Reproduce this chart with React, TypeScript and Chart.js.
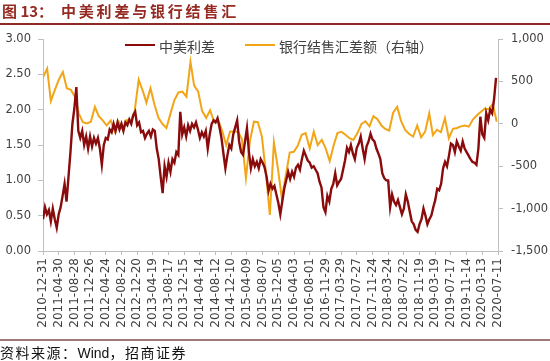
import React, { useEffect, useRef } from 'react';
import { Chart, registerables } from 'chart.js';

Chart.register(...registerables);

// ---------- data ----------
const xTickLabels = [
  '2010-12-31', '2011-04-30', '2011-08-28', '2011-12-26', '2012-04-24', '2012-08-22',
  '2012-12-20', '2013-04-19', '2013-08-17', '2013-12-15', '2014-04-14', '2014-08-12',
  '2014-12-10', '2015-04-09', '2015-08-07', '2015-12-05', '2016-04-03', '2016-08-01',
  '2016-11-29', '2017-03-29', '2017-07-27', '2017-11-24', '2018-03-24', '2018-07-22',
  '2018-11-19', '2019-03-19', '2019-07-17', '2019-11-14', '2020-03-13', '2020-07-11',
];

const seriesNames = ['中美利差', '银行结售汇差额（右轴）'];

// China-US yield spread (%), sampled every 15 days from 2010-12-31
const spreadStart = '2010-12-31';
const spreadStepDays = 15;
const spreadValues = [
  0.45, 0.62, 0.52, 0.58, 0.42, 0.6, 0.45, 0.33, 0.52, 0.62,
  0.78, 0.95, 0.7, 1.05, 1.4, 1.8, 2.02, 2.32, 1.7, 1.6,
  1.7, 1.5, 1.62, 1.45, 1.62, 1.48, 1.6, 1.52, 1.6, 1.45,
  1.22, 1.5, 1.6, 1.58, 1.72, 1.68, 1.8, 1.7, 1.82, 1.72,
  1.8, 1.7, 1.82, 1.78, 1.86, 1.8, 1.92, 1.97, 1.78, 1.82,
  1.68, 1.7, 1.6, 1.66, 1.7, 1.62, 1.72, 1.7, 1.45, 1.3,
  1.05, 0.82, 1.2, 1.05, 1.25, 1.12, 1.3, 1.25, 1.4, 1.36,
  1.97, 1.65, 1.75, 1.62, 1.78, 1.7, 1.8, 1.75, 1.82, 1.72,
  1.6, 1.68, 1.62, 1.7, 1.45, 1.65, 1.8, 1.85, 1.82, 1.88,
  1.75, 1.6, 1.38, 1.17, 1.35, 1.5, 1.45, 1.65, 1.75, 1.85,
  1.55, 1.4, 1.36, 1.55, 1.74, 1.4, 1.17, 1.3, 1.2, 1.26,
  1.17, 1.3, 1.25, 1.18, 1.05, 0.85, 0.95, 0.88, 0.92, 0.8,
  0.68, 0.52, 0.7, 0.88, 1.0, 1.12, 1.02, 1.12, 1.05, 1.18,
  1.22, 1.15, 1.3, 1.42, 1.35, 1.28, 1.25, 1.18, 1.2, 1.15,
  1.1, 0.98, 0.9, 0.62, 0.55, 0.78, 0.7, 0.88, 0.95, 1.1,
  0.93, 0.98, 1.02, 1.15, 1.28, 1.46, 1.4, 1.5, 1.38, 1.3,
  1.46, 1.52, 1.62, 1.45, 1.3, 1.48, 1.55, 1.66, 1.58, 1.55,
  1.45, 1.38, 1.3, 1.1, 1.03, 1.0, 1.0, 0.62, 0.8, 0.7,
  0.65, 0.72, 0.62, 0.52, 0.6, 0.8, 0.7, 0.56, 0.42, 0.38,
  0.3, 0.27, 0.38, 0.45, 0.6, 0.5, 0.38, 0.45, 0.5, 0.62,
  0.72, 0.88, 0.86, 0.95, 1.17, 1.26, 1.2, 1.35, 1.52, 1.5,
  1.4, 1.55, 1.48, 1.42, 1.55, 1.45, 1.4, 1.35, 1.3, 1.26,
  1.25, 1.22, 1.45, 1.9, 1.65, 1.6, 1.95, 1.85, 2.0, 1.95,
  2.15, 2.45,
];

// Bank FX settlement balance (monthly), from 2011-01
const fxStartYear = 2011;
const fxStartMonth = 1;
const fxValues = [
  550, 650, 270, 400, 520, 610, 420, 400, 320, 120,
  20, 5, 25, 200, 90, 40, -20, 40, -90, 25,
  -70, 45, 30, 150, 520, 390, 250, 420, 230, 70,
  0, -50, 120, 280, 370, 380, 320, 730, 450, 380,
  150, 70, 160, 20, 40, -80, -250, -90, -90, -95,
  -180, -640, -210, 25, 20, -150, -580, -1075, -220, -520,
  -880, -600, -340, -330, -260, -130, -110, -290, -93, -250,
  -190, -290, -440, -250, -110, -95, -130, -170, -191, -110,
  0, 30, -30, 90, 55, -20, -60, -80, 130, 200,
  30, -73, -120, -150, -20, -160, -93, 124, -132, -70,
  -100, 65, -171, -60, -50, -30, -20, -34, 50, 100,
  140, 180, 170, 235, 25,
];

const leftMin = 0;
const leftMax = 3;
const leftStep = 0.5;
const rightMin = -1500;
const rightMax = 1000;
const rightStep = 500;

// ---------- helpers ----------
const DAY = 86400000;
function parseDate(s: string): number {
  const [y, m, d] = s.split('-').map(Number);
  return Date.UTC(y, m - 1, d);
}
const origin = parseDate(xTickLabels[0]);
const dayOf = (t: number) => Math.round((t - origin) / DAY);

const spreadData = spreadValues.map((v, i) => ({
  x: dayOf(parseDate(spreadStart)) + i * spreadStepDays,
  y: v,
}));
const fxData = fxValues.map((v, i) => ({
  x: dayOf(Date.UTC(fxStartYear, fxStartMonth - 1 + i, 1)),
  y: v,
}));
const xTickValues = xTickLabels.map((s) => dayOf(parseDate(s)));

const RED = '#8A0B0B';
const ORANGE = '#F2A516';
const AXIS = '#BFBFBF';
const TXT = '#404040';

export default function App() {
  const ref = useRef<HTMLCanvasElement | null>(null);

  useEffect(() => {
    if (!ref.current) return;
    const chart = new Chart(ref.current, {
      type: 'line',
      data: {
        datasets: [
          {
            label: seriesNames[0],
            data: spreadData,
            yAxisID: 'y',
            borderColor: RED,
            backgroundColor: RED,
            borderWidth: 2.4,
            pointRadius: 0,
            tension: 0,
          },
          {
            label: seriesNames[1],
            data: fxData,
            yAxisID: 'y1',
            borderColor: ORANGE,
            backgroundColor: ORANGE,
            borderWidth: 2,
            pointRadius: 0,
            tension: 0,
          },
        ],
      },
      options: {
        responsive: false,
        animation: false,
        events: [],
        layout: { padding: { top: 39, left: 0, right: 0, bottom: 0 } },
        plugins: { legend: { display: false }, tooltip: { enabled: false } },
        scales: {
          x: {
            type: 'linear',
            min: xTickValues[0],
            max: xTickValues[xTickValues.length - 1],
            afterBuildTicks: (scale: any) => {
              scale.ticks = xTickValues.map((v) => ({ value: v }));
            },
            afterFit: (scale: any) => {
              scale.height = 110;
            },
            ticks: {
              autoSkip: false,
              maxRotation: 90,
              minRotation: 90,
              padding: 3,
              color: TXT,
              font: { family: 'DejaVu Sans', size: 12 },
              callback: (_v: any, i: number) => xTickLabels[i],
            },
            grid: { display: true, drawOnChartArea: false, drawTicks: true, tickLength: 4, color: AXIS },
            border: { display: true, color: AXIS },
          },
          y: {
            position: 'left',
            min: leftMin,
            max: leftMax,
            afterFit: (scale: any) => {
              scale.width = 43;
            },
            ticks: {
              stepSize: leftStep,
              padding: 7,
              color: TXT,
              font: { family: 'DejaVu Sans', size: 11.5 },
              callback: (v: any) => Number(v).toFixed(2),
            },
            grid: { display: true, drawOnChartArea: false, drawTicks: true, tickLength: 5, color: AXIS },
            border: { display: true, color: AXIS },
          },
          y1: {
            position: 'right',
            min: rightMin,
            max: rightMax,
            afterFit: (scale: any) => {
              scale.width = 52;
            },
            ticks: {
              stepSize: rightStep,
              padding: 8,
              color: TXT,
              font: { family: 'DejaVu Sans', size: 11.5 },
              callback: (v: any) => Number(v).toLocaleString('en-US'),
            },
            grid: { display: true, drawOnChartArea: false, drawTicks: true, tickLength: 5, color: AXIS },
            border: { display: true, color: AXIS },
          },
        },
      } as any,
    });
    return () => chart.destroy();
  }, []);

  const cjk = '"Noto Sans CJK SC", "Noto Sans", sans-serif';

  return (
    <div style={{ position: 'absolute', left: 0, top: 0, width: 550, height: 361, background: '#fff', overflow: 'hidden' }}>
      <canvas ref={ref} width={550} height={361} style={{ position: 'absolute', left: 0, top: 0, width: 550, height: 361 }} />
      {/* title */}
      <div style={{ position: 'absolute', left: 2, top: 1, fontFamily: cjk, fontSize: 15, fontWeight: 'bold', color: '#952A22', whiteSpace: 'nowrap', lineHeight: '20px' }}>
        图 13：
      </div>
      <div style={{ position: 'absolute', left: 61, top: 1, fontFamily: cjk, fontSize: 15, fontWeight: 'bold', color: '#952A22', whiteSpace: 'nowrap', letterSpacing: 2.8, lineHeight: '20px' }}>
        中美利差与银行结售汇
      </div>
      <div style={{ position: 'absolute', left: 0, top: 23, width: 550, height: 2, background: '#8E2B24' }} />
      {/* legend */}
      <div style={{ position: 'absolute', left: 125, top: 44, width: 30, height: 2, background: RED }} />
      <div style={{ position: 'absolute', left: 159, top: 36, fontFamily: cjk, fontSize: 14, color: TXT, whiteSpace: 'nowrap', lineHeight: '20px' }}>
        {seriesNames[0]}
      </div>
      <div style={{ position: 'absolute', left: 245, top: 44, width: 30, height: 2, background: ORANGE }} />
      <div style={{ position: 'absolute', left: 279, top: 36, fontFamily: cjk, fontSize: 14, color: TXT, whiteSpace: 'nowrap', lineHeight: '20px' }}>
        {seriesNames[1]}
      </div>
      {/* footer */}
      <div style={{ position: 'absolute', left: 0, top: 339, width: 550, height: 1.5, background: '#A07A78' }} />
      <div style={{ position: 'absolute', left: 0, top: 343, fontFamily: cjk, fontSize: 14, color: '#111', whiteSpace: 'nowrap', letterSpacing: 1.5, lineHeight: '18px' }}>
        资料来源：<span style={{ fontFamily: '"Liberation Sans", Arial, sans-serif', letterSpacing: 0 }}>Wind</span>，招商证券
      </div>
    </div>
  );
}
